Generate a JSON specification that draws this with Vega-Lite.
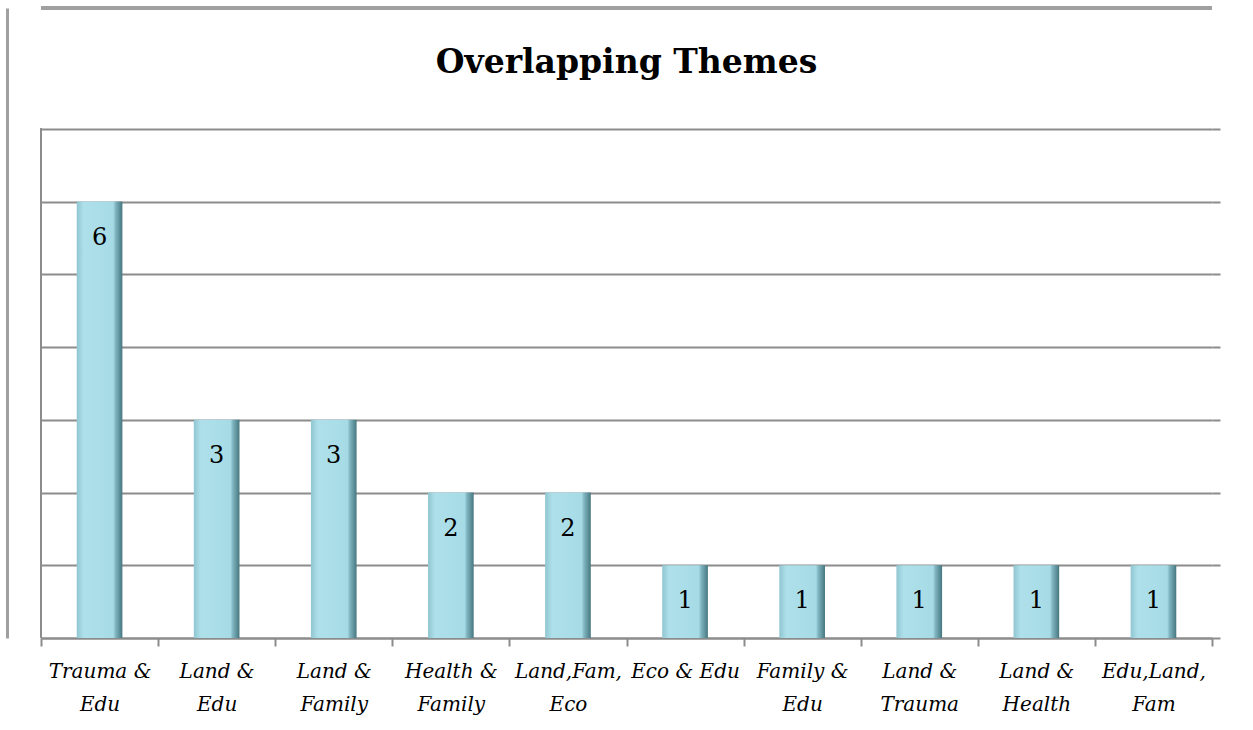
{
  "$schema": "https://vega.github.io/schema/vega-lite/v6.json",
  "width": 1253,
  "height": 730,
  "autosize": {"type": "fit", "contains": "padding"},
  "padding": {"left": 7, "top": 6, "right": 32, "bottom": 16},
  "background": "white",
  "config": {"view": {"stroke": null}},
  "title": {
    "text": "Overlapping Themes",
    "font": "DejaVu Serif",
    "fontWeight": "bold",
    "fontSize": 33,
    "color": "black",
    "anchor": "middle",
    "offset": -73
  },
  "data": {
    "values": [
      {"theme": "Trauma & Edu", "count": 6},
      {"theme": "Land & Edu", "count": 3},
      {"theme": "Land & Family", "count": 3},
      {"theme": "Health & Family", "count": 2},
      {"theme": "Land,Fam, Eco", "count": 2},
      {"theme": "Eco & Edu", "count": 1},
      {"theme": "Family & Edu", "count": 1},
      {"theme": "Land & Trauma", "count": 1},
      {"theme": "Land & Health", "count": 1},
      {"theme": "Edu,Land, Fam", "count": 1}
    ]
  },
  "layer": [
    {
      "mark": {"type": "rule", "color": "#A0A0A0", "strokeWidth": 3},
      "encoding": {
        "y": {
          "datum": 8.66,
          "type": "quantitative",
          "scale": {"domain": [0, 8.66], "nice": false, "zero": true},
          "axis": {"orient": "left", "offset": 34, "domain": true, "domainColor": "#A0A0A0", "domainWidth": 3, "ticks": false, "labels": false, "grid": false, "title": null}
        }
      }
    },
    {
      "mark": {
        "type": "bar",
        "width": {"band": 0.39},
        "color": {
          "gradient": "linear",
          "x1": 0, "x2": 1, "y1": 0, "y2": 0,
          "stops": [
            {"offset": 0, "color": "#90C6D1"},
            {"offset": 0.1, "color": "#A3D7E2"},
            {"offset": 0.16, "color": "#AEE0EA"},
            {"offset": 0.8, "color": "#A6DBE6"},
            {"offset": 0.85, "color": "#80B6C2"},
            {"offset": 1, "color": "#46777F"}
          ]
        }
      },
      "encoding": {
        "x": {
          "field": "theme",
          "type": "nominal",
          "sort": null,
          "scale": {"paddingInner": 0, "paddingOuter": 0},
          "axis": {
            "title": null,
            "labelAngle": 0,
            "domainColor": "#8C8C8C",
            "domainWidth": 2,
            "tickColor": "#8C8C8C",
            "tickWidth": 2,
            "tickSize": 8,
            "tickBand": "extent",
            "labelFont": "DejaVu Serif",
            "labelFontStyle": "italic",
            "labelFontSize": 20,
            "labelColor": "black",
            "labelPadding": 15,
            "labelLineHeight": 33,
            "labelExpr": "datum.label == 'Eco & Edu' ? datum.label : split(replace(replace(datum.label, '& ', '&|'), ', ', ',|'), '|')"
          }
        },
        "y": {
          "field": "count",
          "type": "quantitative",
          "axis": {
            "values": [0, 1, 2, 3, 4, 5, 6, 7],
            "grid": true,
            "gridColor": "#8C8C8C",
            "gridWidth": 2,
            "domain": false,
            "ticks": true,
            "tickColor": "#8C8C8C",
            "tickWidth": 2,
            "tickSize": 8,
            "labels": false,
            "title": null
          }
        }
      }
    },
    {
      "mark": {"type": "rule", "color": "#8C8C8C", "strokeWidth": 2},
      "encoding": {
        "x": {"datum": "Trauma & Edu", "type": "nominal", "bandPosition": 0},
        "y": {"datum": 0, "type": "quantitative", "axis": null},
        "y2": {"datum": 7}
      }
    },
    {
      "mark": {"type": "text", "dy": 36, "font": "DejaVu Serif", "fontSize": 24, "color": "black"},
      "encoding": {
        "x": {"field": "theme", "type": "nominal", "sort": null},
        "y": {"field": "count", "type": "quantitative", "axis": null},
        "text": {"field": "count", "type": "quantitative"}
      }
    }
  ],
  "resolve": {"axis": {"y": "independent"}}
}
